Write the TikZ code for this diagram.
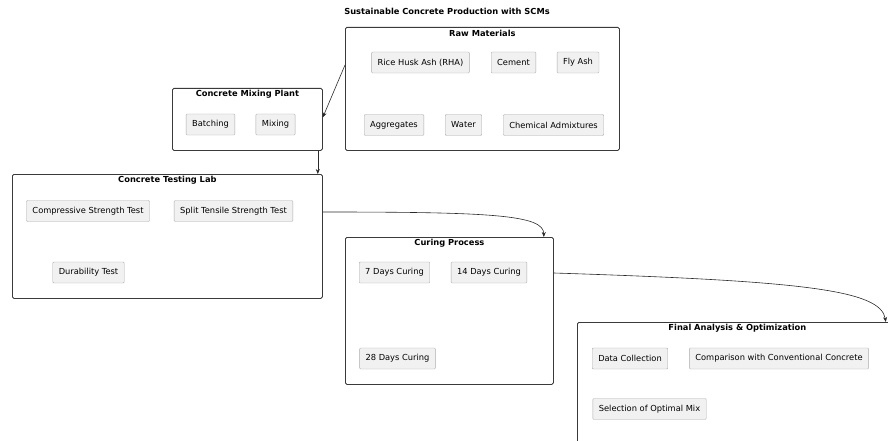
\documentclass[tikz,border=0pt]{standalone}
\usepackage{fontspec}
\setmainfont{DejaVu Sans}
\usetikzlibrary{arrows.meta}
\definecolor{grpline}{HTML}{3A3A3A}
\definecolor{partline}{HTML}{ABABAB}
\definecolor{partfill}{HTML}{F1F1F1}
\definecolor{flowline}{HTML}{2A2A2A}
\begin{document}
\begin{tikzpicture}[x=1pt, y=-1pt, >={Stealth[length=5pt,width=4pt]},
  grp/.style={draw=grpline, line width=.8pt, rounded corners=1.5pt, anchor=north west, inner sep=0pt},
  grptitle/.style={font=\fontsize{8.3}{10}\selectfont\bfseries},
  part/.style={draw=partline, fill=partfill, rounded corners=1pt, font=\fontsize{8.3}{10}\selectfont, inner xsep=6pt, minimum height=21pt},
  flow/.style={->, draw=flowline, line width=.6pt}]
\useasboundingbox (0,0) rectangle (888,441);
\clip (0,0) rectangle (888,441);
\node[grptitle] (title) at (447,11) {Sustainable Concrete Production with SCMs};
% groups
\node[grp, minimum width=274pt, minimum height=123pt] (raw) at (345,27) {};
\node[grp, minimum width=150pt, minimum height=62pt] (mix) at (172,88) {};
\node[grp, minimum width=310pt, minimum height=124pt] (lab) at (12,174) {};
\node[grp, minimum width=208pt, minimum height=147pt] (cure) at (345,237) {};
\node[grp, minimum width=320pt, minimum height=140pt] (final) at (577,322) {};
\node[grptitle] at ([yshift=-6.5pt]raw.north) {Raw Materials};
\node[grptitle] at ([yshift=-6.5pt]mix.north) {Concrete Mixing Plant};
\node[grptitle] at ([yshift=-6.5pt]lab.north) {Concrete Testing Lab};
\node[grptitle] at ([yshift=-6.5pt]cure.north) {Curing Process};
\node[grptitle] at ([yshift=-6.5pt]final.north) {Final Analysis \& Optimization};
% parts
\node[part] (rha) at (420.5,62.5) {Rice Husk Ash (RHA)};
\node[part] (cement) at (513.5,62.5) {Cement};
\node[part] (flyash) at (578,62.5) {Fly Ash};
\node[part] (aggr) at (394,125) {Aggregates};
\node[part] (water) at (463.5,125) {Water};
\node[part] (admix) at (553.5,125) {Chemical Admixtures};
\node[part] (batch) at (210.5,124.5) {Batching};
\node[part] (mixing) at (275.5,124.5) {Mixing};
\node[part] (comp) at (88,211) {Compressive Strength Test};
\node[part] (split) at (233.5,211) {Split Tensile Strength Test};
\node[part] (dura) at (88.5,272.5) {Durability Test};
\node[part] (d7) at (394.5,272.5) {7 Days Curing};
\node[part] (d14) at (489,272.5) {14 Days Curing};
\node[part] (d28) at (397.5,358.5) {28 Days Curing};
\node[part] (data) at (630,358.5) {Data Collection};
\node[part] (compare) at (779,358.5) {Comparison with Conventional Concrete};
\node[part] (select) at (649.5,409) {Selection of Optimal Mix};
% flow
\draw[flow] ([yshift=-38pt]raw.north west) -- ([yshift=2pt]mix.east);
\draw[flow] ([xshift=-5pt]mix.south east) -- ([xshift=-5pt]lab.north east);
\draw[flow] ([yshift=-38pt]lab.north east) .. controls +(170,0) and +(0,-22) .. ([xshift=-10pt]cure.north east);
\draw[flow] ([yshift=-36pt]cure.north east) .. controls +(250,8) and +(-5,-32) .. ([xshift=-12pt]final.north east);
\end{tikzpicture}
\end{document}
